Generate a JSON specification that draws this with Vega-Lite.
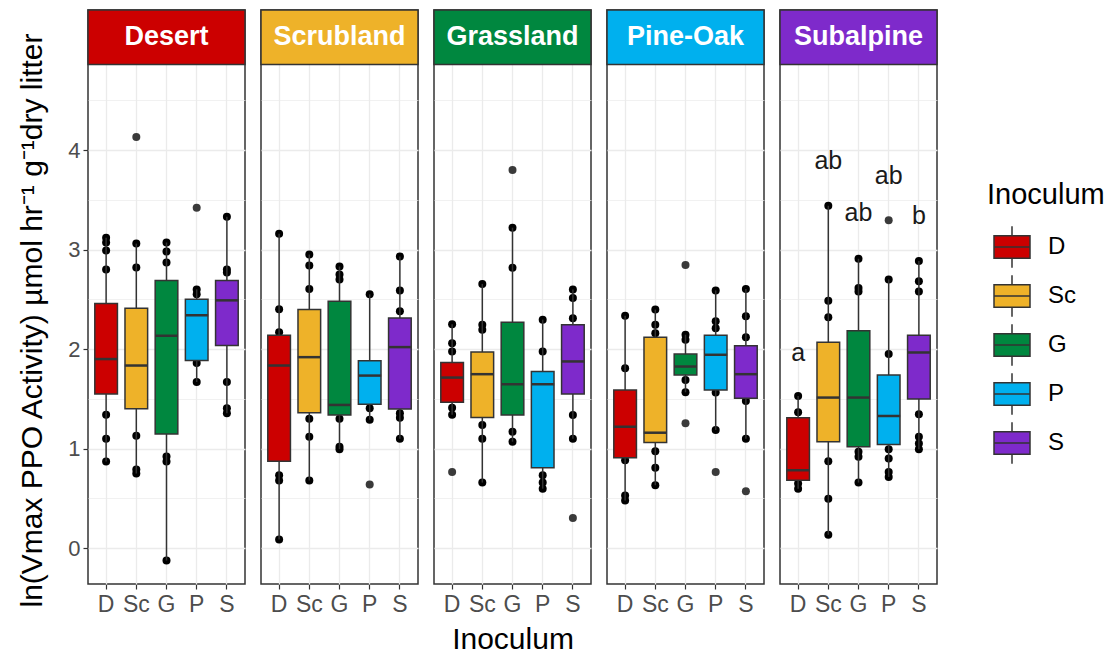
{
  "$schema": "https://vega.github.io/schema/vega-lite/v6.json",
  "padding": {"left": 17, "top": 8, "right": 0, "bottom": 0},
  "background": "white",
  "bounds": "flush",
  "data": {"values": [
    {"k":"b","h":"Desert","i":"D","lo":0.87,"q1":1.55,"med":1.90,"q3":2.457,"hi":3.12},
    {"k":"b","h":"Desert","i":"Sc","lo":0.75,"q1":1.40,"med":1.835,"q3":2.41,"hi":3.06},
    {"k":"b","h":"Desert","i":"G","lo":-0.124,"q1":1.146,"med":2.134,"q3":2.69,"hi":3.07},
    {"k":"b","h":"Desert","i":"P","lo":1.67,"q1":1.886,"med":2.34,"q3":2.50,"hi":2.60},
    {"k":"b","h":"Desert","i":"S","lo":1.355,"q1":2.037,"med":2.49,"q3":2.69,"hi":3.33},
    {"k":"b","h":"Scrubland","i":"D","lo":0.087,"q1":0.874,"med":1.835,"q3":2.138,"hi":3.16},
    {"k":"b","h":"Scrubland","i":"Sc","lo":0.68,"q1":1.361,"med":1.919,"q3":2.397,"hi":2.95},
    {"k":"b","h":"Scrubland","i":"G","lo":0.995,"q1":1.338,"med":1.439,"q3":2.48,"hi":2.83},
    {"k":"b","h":"Scrubland","i":"P","lo":1.29,"q1":1.445,"med":1.734,"q3":1.882,"hi":2.55},
    {"k":"b","h":"Scrubland","i":"S","lo":1.10,"q1":1.398,"med":2.02,"q3":2.313,"hi":2.93},
    {"k":"b","h":"Grassland","i":"D","lo":1.34,"q1":1.466,"med":1.714,"q3":1.866,"hi":2.25},
    {"k":"b","h":"Grassland","i":"Sc","lo":0.659,"q1":1.314,"med":1.748,"q3":1.97,"hi":2.655},
    {"k":"b","h":"Grassland","i":"G","lo":1.07,"q1":1.338,"med":1.647,"q3":2.269,"hi":3.22},
    {"k":"b","h":"Grassland","i":"P","lo":0.598,"q1":0.807,"med":1.647,"q3":1.775,"hi":2.296},
    {"k":"b","h":"Grassland","i":"S","lo":1.10,"q1":1.55,"med":1.876,"q3":2.245,"hi":2.60},
    {"k":"b","h":"Pine-Oak","i":"D","lo":0.48,"q1":0.908,"med":1.22,"q3":1.59,"hi":2.336},
    {"k":"b","h":"Pine-Oak","i":"Sc","lo":0.632,"q1":1.062,"med":1.16,"q3":2.12,"hi":2.397},
    {"k":"b","h":"Pine-Oak","i":"G","lo":1.566,"q1":1.741,"med":1.825,"q3":1.95,"hi":2.145},
    {"k":"b","h":"Pine-Oak","i":"P","lo":1.187,"q1":1.59,"med":1.943,"q3":2.138,"hi":2.59},
    {"k":"b","h":"Pine-Oak","i":"S","lo":1.10,"q1":1.506,"med":1.748,"q3":2.034,"hi":2.605},
    {"k":"b","h":"Subalpine","i":"D","lo":0.598,"q1":0.682,"med":0.783,"q3":1.311,"hi":1.529},
    {"k":"b","h":"Subalpine","i":"Sc","lo":0.134,"q1":1.069,"med":1.513,"q3":2.07,"hi":3.44},
    {"k":"b","h":"Subalpine","i":"G","lo":0.659,"q1":1.018,"med":1.513,"q3":2.185,"hi":2.908},
    {"k":"b","h":"Subalpine","i":"P","lo":0.716,"q1":1.042,"med":1.328,"q3":1.741,"hi":2.70},
    {"k":"b","h":"Subalpine","i":"S","lo":0.995,"q1":1.499,"med":1.966,"q3":2.138,"hi":2.884},

    {"k":"p","h":"Desert","i":"D","v":3.12},{"k":"p","h":"Desert","i":"D","v":3.07},{"k":"p","h":"Desert","i":"D","v":2.99},{"k":"p","h":"Desert","i":"D","v":2.80},{"k":"p","h":"Desert","i":"D","v":1.34},{"k":"p","h":"Desert","i":"D","v":1.10},{"k":"p","h":"Desert","i":"D","v":0.87},
    {"k":"p","h":"Desert","i":"Sc","v":3.06},{"k":"p","h":"Desert","i":"Sc","v":2.82},{"k":"p","h":"Desert","i":"Sc","v":1.13},{"k":"p","h":"Desert","i":"Sc","v":0.79},{"k":"p","h":"Desert","i":"Sc","v":0.75},
    {"k":"p","h":"Desert","i":"G","v":3.07},{"k":"p","h":"Desert","i":"G","v":2.98},{"k":"p","h":"Desert","i":"G","v":2.87},{"k":"p","h":"Desert","i":"G","v":0.92},{"k":"p","h":"Desert","i":"G","v":0.87},{"k":"p","h":"Desert","i":"G","v":-0.124},
    {"k":"p","h":"Desert","i":"P","v":2.60},{"k":"p","h":"Desert","i":"P","v":2.55},{"k":"p","h":"Desert","i":"P","v":1.86},{"k":"p","h":"Desert","i":"P","v":1.67},
    {"k":"p","h":"Desert","i":"S","v":3.33},{"k":"p","h":"Desert","i":"S","v":2.80},{"k":"p","h":"Desert","i":"S","v":2.77},{"k":"p","h":"Desert","i":"S","v":1.67},{"k":"p","h":"Desert","i":"S","v":1.405},{"k":"p","h":"Desert","i":"S","v":1.355},
    {"k":"p","h":"Scrubland","i":"D","v":3.16},{"k":"p","h":"Scrubland","i":"D","v":2.40},{"k":"p","h":"Scrubland","i":"D","v":2.17},{"k":"p","h":"Scrubland","i":"D","v":0.733},{"k":"p","h":"Scrubland","i":"D","v":0.68},{"k":"p","h":"Scrubland","i":"D","v":0.087},
    {"k":"p","h":"Scrubland","i":"Sc","v":2.95},{"k":"p","h":"Scrubland","i":"Sc","v":2.84},{"k":"p","h":"Scrubland","i":"Sc","v":2.605},{"k":"p","h":"Scrubland","i":"Sc","v":1.30},{"k":"p","h":"Scrubland","i":"Sc","v":1.12},{"k":"p","h":"Scrubland","i":"Sc","v":0.68},
    {"k":"p","h":"Scrubland","i":"G","v":2.83},{"k":"p","h":"Scrubland","i":"G","v":2.75},{"k":"p","h":"Scrubland","i":"G","v":2.70},{"k":"p","h":"Scrubland","i":"G","v":1.30},{"k":"p","h":"Scrubland","i":"G","v":1.02},{"k":"p","h":"Scrubland","i":"G","v":0.995},
    {"k":"p","h":"Scrubland","i":"P","v":2.55},{"k":"p","h":"Scrubland","i":"P","v":1.405},{"k":"p","h":"Scrubland","i":"P","v":1.29},
    {"k":"p","h":"Scrubland","i":"S","v":2.93},{"k":"p","h":"Scrubland","i":"S","v":2.59},{"k":"p","h":"Scrubland","i":"S","v":2.38},{"k":"p","h":"Scrubland","i":"S","v":1.355},{"k":"p","h":"Scrubland","i":"S","v":1.31},{"k":"p","h":"Scrubland","i":"S","v":1.10},
    {"k":"p","h":"Grassland","i":"D","v":2.25},{"k":"p","h":"Grassland","i":"D","v":2.06},{"k":"p","h":"Grassland","i":"D","v":1.976},{"k":"p","h":"Grassland","i":"D","v":1.41},{"k":"p","h":"Grassland","i":"D","v":1.34},
    {"k":"p","h":"Grassland","i":"Sc","v":2.655},{"k":"p","h":"Grassland","i":"Sc","v":2.245},{"k":"p","h":"Grassland","i":"Sc","v":2.195},{"k":"p","h":"Grassland","i":"Sc","v":1.237},{"k":"p","h":"Grassland","i":"Sc","v":1.10},{"k":"p","h":"Grassland","i":"Sc","v":0.659},
    {"k":"p","h":"Grassland","i":"G","v":3.22},{"k":"p","h":"Grassland","i":"G","v":2.817},{"k":"p","h":"Grassland","i":"G","v":1.17},{"k":"p","h":"Grassland","i":"G","v":1.07},
    {"k":"p","h":"Grassland","i":"P","v":2.296},{"k":"p","h":"Grassland","i":"P","v":1.976},{"k":"p","h":"Grassland","i":"P","v":0.733},{"k":"p","h":"Grassland","i":"P","v":0.659},{"k":"p","h":"Grassland","i":"P","v":0.598},
    {"k":"p","h":"Grassland","i":"S","v":2.60},{"k":"p","h":"Grassland","i":"S","v":2.514},{"k":"p","h":"Grassland","i":"S","v":2.31},{"k":"p","h":"Grassland","i":"S","v":1.338},{"k":"p","h":"Grassland","i":"S","v":1.10},
    {"k":"p","h":"Pine-Oak","i":"D","v":2.336},{"k":"p","h":"Pine-Oak","i":"D","v":1.808},{"k":"p","h":"Pine-Oak","i":"D","v":0.884},{"k":"p","h":"Pine-Oak","i":"D","v":0.53},{"k":"p","h":"Pine-Oak","i":"D","v":0.48},
    {"k":"p","h":"Pine-Oak","i":"Sc","v":2.397},{"k":"p","h":"Pine-Oak","i":"Sc","v":2.245},{"k":"p","h":"Pine-Oak","i":"Sc","v":2.16},{"k":"p","h":"Pine-Oak","i":"Sc","v":0.975},{"k":"p","h":"Pine-Oak","i":"Sc","v":0.807},{"k":"p","h":"Pine-Oak","i":"Sc","v":0.632},
    {"k":"p","h":"Pine-Oak","i":"G","v":2.145},{"k":"p","h":"Pine-Oak","i":"G","v":2.094},{"k":"p","h":"Pine-Oak","i":"G","v":1.69},{"k":"p","h":"Pine-Oak","i":"G","v":1.566},
    {"k":"p","h":"Pine-Oak","i":"P","v":2.59},{"k":"p","h":"Pine-Oak","i":"P","v":2.28},{"k":"p","h":"Pine-Oak","i":"P","v":2.21},{"k":"p","h":"Pine-Oak","i":"P","v":1.563},{"k":"p","h":"Pine-Oak","i":"P","v":1.187},
    {"k":"p","h":"Pine-Oak","i":"S","v":2.605},{"k":"p","h":"Pine-Oak","i":"S","v":2.33},{"k":"p","h":"Pine-Oak","i":"S","v":2.12},{"k":"p","h":"Pine-Oak","i":"S","v":1.479},{"k":"p","h":"Pine-Oak","i":"S","v":1.10},
    {"k":"p","h":"Subalpine","i":"D","v":1.529},{"k":"p","h":"Subalpine","i":"D","v":1.365},{"k":"p","h":"Subalpine","i":"D","v":0.649},{"k":"p","h":"Subalpine","i":"D","v":0.598},
    {"k":"p","h":"Subalpine","i":"Sc","v":3.44},{"k":"p","h":"Subalpine","i":"Sc","v":2.487},{"k":"p","h":"Subalpine","i":"Sc","v":2.319},{"k":"p","h":"Subalpine","i":"Sc","v":0.874},{"k":"p","h":"Subalpine","i":"Sc","v":0.497},{"k":"p","h":"Subalpine","i":"Sc","v":0.134},
    {"k":"p","h":"Subalpine","i":"G","v":2.908},{"k":"p","h":"Subalpine","i":"G","v":2.615},{"k":"p","h":"Subalpine","i":"G","v":2.58},{"k":"p","h":"Subalpine","i":"G","v":0.968},{"k":"p","h":"Subalpine","i":"G","v":0.918},{"k":"p","h":"Subalpine","i":"G","v":0.659},
    {"k":"p","h":"Subalpine","i":"P","v":2.70},{"k":"p","h":"Subalpine","i":"P","v":1.95},{"k":"p","h":"Subalpine","i":"P","v":0.995},{"k":"p","h":"Subalpine","i":"P","v":0.90},{"k":"p","h":"Subalpine","i":"P","v":0.766},{"k":"p","h":"Subalpine","i":"P","v":0.716},
    {"k":"p","h":"Subalpine","i":"S","v":2.884},{"k":"p","h":"Subalpine","i":"S","v":2.682},{"k":"p","h":"Subalpine","i":"S","v":2.58},{"k":"p","h":"Subalpine","i":"S","v":1.345},{"k":"p","h":"Subalpine","i":"S","v":1.12},{"k":"p","h":"Subalpine","i":"S","v":1.052},{"k":"p","h":"Subalpine","i":"S","v":0.995},

    {"k":"o","h":"Desert","i":"Sc","v":4.13},{"k":"o","h":"Desert","i":"P","v":3.42},
    {"k":"o","h":"Scrubland","i":"P","v":0.639},
    {"k":"o","h":"Grassland","i":"D","v":0.766},{"k":"o","h":"Grassland","i":"G","v":3.80},{"k":"o","h":"Grassland","i":"S","v":0.303},
    {"k":"o","h":"Pine-Oak","i":"G","v":2.844},{"k":"o","h":"Pine-Oak","i":"G","v":1.254},{"k":"o","h":"Pine-Oak","i":"P","v":0.766},{"k":"o","h":"Pine-Oak","i":"S","v":0.571},
    {"k":"o","h":"Subalpine","i":"P","v":3.294},

    {"k":"l","h":"Subalpine","i":"D","v":1.96,"lab":"a"},
    {"k":"l","h":"Subalpine","i":"Sc","v":3.89,"lab":"ab"},
    {"k":"l","h":"Subalpine","i":"G","v":3.37,"lab":"ab"},
    {"k":"l","h":"Subalpine","i":"P","v":3.74,"lab":"ab"},
    {"k":"l","h":"Subalpine","i":"S","v":3.34,"lab":"b"},

    {"k":"s","h":"Desert","i":"D"},
    {"k":"s","h":"Scrubland","i":"Sc"},
    {"k":"s","h":"Grassland","i":"G"},
    {"k":"s","h":"Pine-Oak","i":"P"},
    {"k":"s","h":"Subalpine","i":"S"}
  ]},
  "facet": {
    "column": {"field": "h", "type": "nominal", "sort": ["Desert","Scrubland","Grassland","Pine-Oak","Subalpine"], "title": "Inoculum",
               "header": {"labels": false, "titleOrient": "bottom", "titleFont": "Liberation Sans", "titleFontSize": 30, "titleFontWeight": "normal", "titleColor": "#000000", "titlePadding": -1}}
  },
  "spacing": 16,
  "spec": {
    "width": 157,
    "height": 574,
    "layer": [
      {
        "transform": [{"filter": "datum.k == 'p'"}],
        "mark": {"type": "circle", "size": 64, "color": "#000000", "opacity": 1},
        "encoding": {
          "x": {"field": "i", "type": "nominal", "title": null,
                "scale": {"domain": ["D","Sc","G","P","S"], "paddingInner": 0.25, "paddingOuter": 0.225},
                "axis": {"labelAngle": 0, "grid": true}},
          "y": {"field": "v", "type": "quantitative", "title": "ln(Vmax PPO Activity)  µmol hr⁻¹ g⁻¹dry litter",
                "scale": {"domain": [-0.36, 5.407], "nice": false, "zero": false},
                "axis": {"values": [0,0.5,1,1.5,2,2.5,3,3.5,4,4.5],
                         "labelExpr": "datum.value % 1 == 0 ? format(datum.value, 'd') : ''",
                         "tickOpacity": {"condition": {"test": "datum.value % 1 != 0", "value": 0}, "value": 1},
                         "gridWidth": {"condition": {"test": "datum.value % 1 != 0", "value": 0.7}, "value": 1.3},
                         "titleY": 310}}
        }
      },
      {
        "transform": [{"filter": "datum.k == 'b'"}],
        "mark": {"type": "rule", "color": "#333333", "strokeWidth": 1.5},
        "encoding": {
          "x": {"field": "i", "type": "nominal", "title": null},
          "y": {"field": "lo", "type": "quantitative", "title": "ln(Vmax PPO Activity)  µmol hr⁻¹ g⁻¹dry litter"},
          "y2": {"field": "hi"}
        }
      },
      {
        "transform": [{"filter": "datum.k == 'b'"}],
        "mark": {"type": "bar", "stroke": "#333333", "strokeWidth": 1.5, "opacity": 1},
        "encoding": {
          "x": {"field": "i", "type": "nominal", "title": null},
          "y": {"field": "q1", "type": "quantitative", "title": "ln(Vmax PPO Activity)  µmol hr⁻¹ g⁻¹dry litter"},
          "y2": {"field": "q3"},
          "color": {"field": "i", "type": "nominal",
                    "scale": {"domain": ["D","Sc","G","P","S"], "range": ["#CC0000","#EEB229","#00873F","#00B0EE","#7E2ACB"]},
                    "legend": {"title": "Inoculum", "orient": "none", "legendX": 899, "legendY": 171,
                               "symbolType": "M-1,-0.62H1V0.62H-1Z M-1,0H1 M0,-0.62V-1.15 M0,0.62V1.15",
                               "symbolSize": 1296, "symbolStrokeColor": "#333333", "symbolStrokeWidth": 1.5,
                               "symbolOpacity": 1, "symbolOffset": 6, "rowPadding": 1, "labelOffset": 17,
                               "labelFontSize": 24, "titleFontSize": 29, "titlePadding": 18}}
        }
      },
      {
        "transform": [{"filter": "datum.k == 'b'"}],
        "mark": {"type": "tick", "color": "#333333", "size": 23, "thickness": 2.5, "opacity": 1},
        "encoding": {
          "x": {"field": "i", "type": "nominal", "title": null},
          "y": {"field": "med", "type": "quantitative", "title": "ln(Vmax PPO Activity)  µmol hr⁻¹ g⁻¹dry litter"}
        }
      },
      {
        "transform": [{"filter": "datum.k == 'o'"}],
        "mark": {"type": "circle", "size": 64, "color": "#3a3a3a", "opacity": 1},
        "encoding": {
          "x": {"field": "i", "type": "nominal", "title": null},
          "y": {"field": "v", "type": "quantitative", "title": "ln(Vmax PPO Activity)  µmol hr⁻¹ g⁻¹dry litter"}
        }
      },
      {
        "transform": [{"filter": "datum.k == 'l'"}],
        "mark": {"type": "text", "fontSize": 25, "color": "#1a1a1a", "font": "Liberation Sans", "baseline": "middle"},
        "encoding": {
          "x": {"field": "i", "type": "nominal", "title": null},
          "y": {"field": "v", "type": "quantitative", "title": "ln(Vmax PPO Activity)  µmol hr⁻¹ g⁻¹dry litter"},
          "text": {"field": "lab"}
        }
      },
      {
        "transform": [{"filter": "datum.k == 's'"}],
        "mark": {"type": "rect", "stroke": "#333333", "strokeWidth": 1.5, "opacity": 1},
        "encoding": {
          "y": {"datum": 4.86},
          "y2": {"datum": 5.407},
          "color": {"field": "i", "type": "nominal"}
        }
      },
      {
        "transform": [{"filter": "datum.k == 's'"}],
        "mark": {"type": "text", "fontSize": 27, "fontWeight": "bold", "color": "#ffffff", "font": "Liberation Sans", "baseline": "middle"},
        "encoding": {
          "y": {"datum": 5.133},
          "text": {"field": "h"}
        }
      }
    ]
  },
  "config": {
    "font": "Liberation Sans",
    "view": {"stroke": "#333333", "strokeWidth": 1.5},
    "axis": {
      "domain": false,
      "gridColor": "#EBEBEB",
      "gridWidth": 1.3,
      "tickColor": "#333333",
      "tickSize": 5,
      "tickWidth": 1.2,
      "labelFont": "Liberation Sans",
      "labelFontSize": 23,
      "labelColor": "#4D4D4D",
      "labelPadding": 4,
      "titleFont": "Liberation Sans",
      "titleFontSize": 30,
      "titleFontWeight": "normal",
      "titleColor": "#000000"
    },
    "axisY": {"titlePadding": 20, "labelFontSize": 22, "labelPadding": 3},
    "legend": {
      "labelFont": "Liberation Sans",
      "titleFont": "Liberation Sans",
      "titleFontWeight": "normal",
      "labelColor": "#000000",
      "titleColor": "#000000"
    }
  }
}
